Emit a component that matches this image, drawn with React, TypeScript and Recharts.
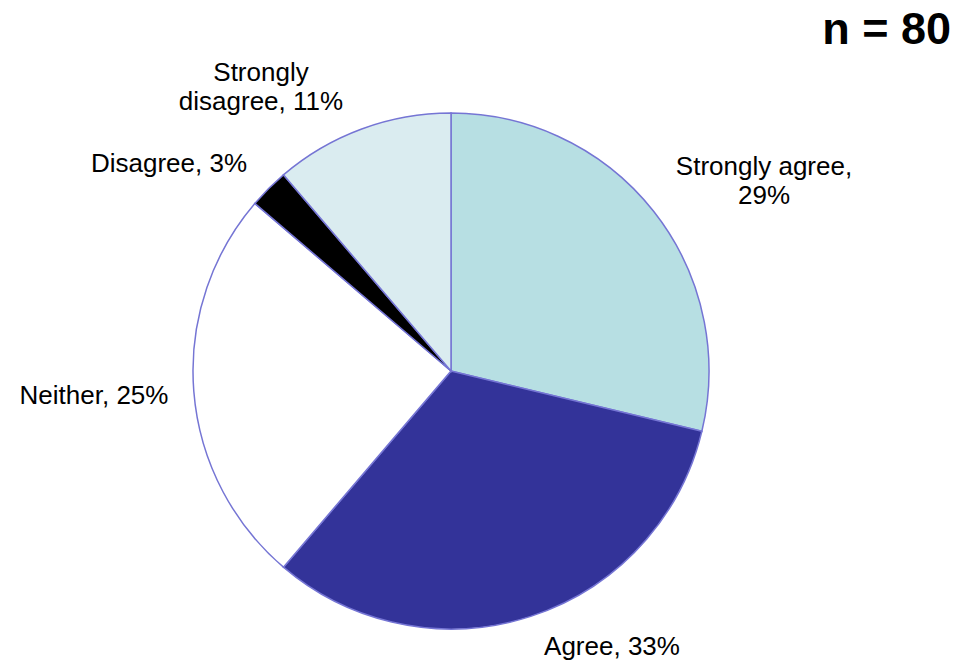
import { PieChart, Pie, Cell } from "recharts";

// responses, n = 80, clockwise from 12 o'clock
const categories = ["Strongly agree", "Agree", "Neither", "Disagree", "Strongly disagree"];
const counts = [23, 26, 20, 2, 9];
const colors = ["#B7DFE3", "#333399", "#FFFFFF", "#000000", "#DAECF0"];

// where each label sits, relative to pie centre (first line baseline)
const labelPos = [
  { dx: 313, dy: -196, wrap: "comma" },
  { dx: 161, dy: 284, wrap: "" },
  { dx: -357, dy: 33, wrap: "" },
  { dx: -282, dy: -199, wrap: "" },
  { dx: -190, dy: -290, wrap: "word" },
];

const total = counts.reduce((a, b) => a + b, 0);
const data = categories.map((name, i) => ({ name, value: counts[i] }));

const FONT = "Liberation Sans, Arial, sans-serif";

function renderLabel(props: any) {
  const { cx, cy, index, name, value } = props;
  const pos = labelPos[index];
  const pct = Math.round((value / total) * 100) + "%";
  let lines: string[];
  if (pos.wrap === "comma") lines = [name + ",", pct];
  else if (pos.wrap === "word") {
    const sp = name.indexOf(" ");
    lines = [name.slice(0, sp), name.slice(sp + 1) + ", " + pct];
  } else lines = [name + ", " + pct];
  const x = cx + pos.dx;
  const y = cy + pos.dy;
  return (
    <text key={"lbl" + index} x={x} y={y} textAnchor="middle" fontSize={26} fontFamily={FONT} fill="#000">
      {lines.map((l, i) => (
        <tspan key={i} x={x} y={y + i * 29}>
          {l}
        </tspan>
      ))}
    </text>
  );
}

export default function App() {
  return (
    <div style={{ position: "relative", width: 957, height: 663, background: "#fff" }}>
      <style>{"body{margin:0}"}</style>
      <PieChart width={957} height={663} margin={{ top: 0, right: 0, bottom: 0, left: 0 }}>
        <Pie
          data={data}
          dataKey="value"
          nameKey="name"
          cx={451}
          cy={371}
          outerRadius={258}
          startAngle={90}
          endAngle={-270}
          stroke="#7575D4"
          strokeWidth={1.5}
          label={renderLabel}
          labelLine={false}
          isAnimationActive={false}
        >
          {data.map((_, i) => (
            <Cell key={i} fill={colors[i]} />
          ))}
        </Pie>
      </PieChart>
      <svg width={957} height={663} style={{ position: "absolute", left: 0, top: 0, pointerEvents: "none" }}>
        <text x={951} y={44} textAnchor="end" fontSize={45} fontWeight="bold" fontFamily={FONT} fill="#000">
          n = {total}
        </text>
      </svg>
    </div>
  );
}
